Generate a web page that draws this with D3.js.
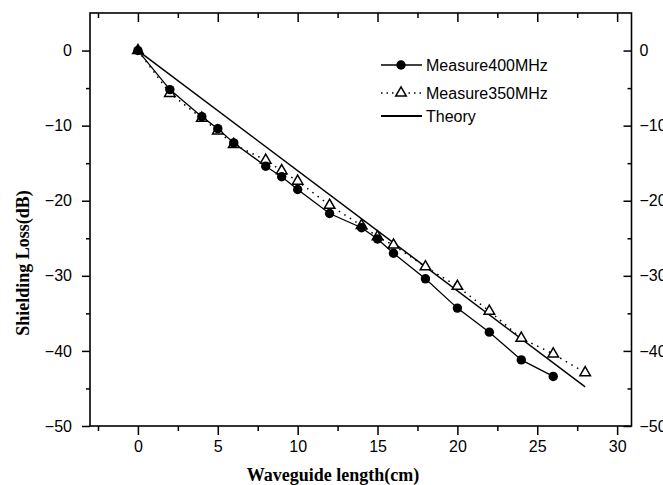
<!DOCTYPE html>
<html lang="en">
<head>
    <meta charset="UTF-8">
    <script src="https://d3js.org/d3.v7.min.js"></script>
    <style>
        body {margin: 0; background-color: #ffffff}
        svg {display: block}
        .tick text {font-family: "Liberation Sans", Arial, sans-serif; font-size: 16px; fill: #000}
        .tick line {stroke: #000; stroke-width: 1.5}
        .title {font-family: "Liberation Serif", "Times New Roman", serif; font-weight: bold; font-size: 18px}
        .legend text {font-family: "Liberation Sans", Arial, sans-serif; font-size: 16px}
    </style>
</head>
<body>
<svg class="chart" width="663" height="485"></svg>
<script type="text/javascript">
    // waveguide length (cm)
    let len400 = [0, 2, 4, 5, 6, 8, 9, 10, 12, 14, 15, 16, 18, 20, 22, 24, 26];
    let loss400 = [0, -5.2, -8.8, -10.4, -12.3, -15.4, -16.8, -18.5, -21.7, -23.6, -25.1, -27.0, -30.4, -34.3, -37.5, -41.2, -43.4];

    let len350 = [0, 2, 4, 5, 6, 8, 9, 10, 12, 14, 15, 16, 18, 20, 22, 24, 26, 28];
    let loss350 = [0, -5.7, -9.0, -10.7, -12.5, -14.6, -16.0, -17.4, -20.6, -23.3, -24.8, -25.9, -28.8, -31.4, -34.7, -38.3, -40.4, -42.9];

    let lenTheory = [0, 28];
    let lossTheory = [0, -44.8];

    let xTicks = [0, 5, 10, 15, 20, 25, 30];
    let xMinor = [-2.5, 2.5, 7.5, 12.5, 17.5, 22.5, 27.5];
    let yTicks = [0, -10, -20, -30, -40, -50];
    let yMinor = [-5, -15, -25, -35, -45];

    let legendNames = ['Measure400MHz', 'Measure350MHz', 'Theory'];

    let pLeft = 90, pRight = 631.5, pTop = 13, pBottom = 426;

    var x = d3.scaleLinear().domain([-3, 30.9]).range([pLeft, pRight]);
    var y = d3.scaleLinear().domain([-50, 5]).range([pBottom, pTop]);

    var svg = d3.select('.chart');

    // axes
    function clean(g) { g.select('.domain').remove(); }

    svg.append('g').attr('transform', 'translate(0,' + pBottom + ')')
        .call(d3.axisBottom(x).tickValues(xTicks).tickSize(9).tickPadding(6)).call(clean);
    svg.append('g').attr('transform', 'translate(0,' + pBottom + ')')
        .call(d3.axisBottom(x).tickValues(xMinor).tickSize(5).tickFormat('')).call(clean);

    svg.append('g').attr('transform', 'translate(0,' + pTop + ')')
        .call(d3.axisBottom(x).tickValues(xTicks).tickSize(9).tickFormat('')).call(clean);
    svg.append('g').attr('transform', 'translate(0,' + pTop + ')')
        .call(d3.axisBottom(x).tickValues(xMinor).tickSize(5).tickFormat('')).call(clean);

    svg.append('g').attr('transform', 'translate(' + pLeft + ',0)')
        .call(d3.axisLeft(y).tickValues(yTicks).tickSize(8).tickPadding(10)).call(clean);
    svg.append('g').attr('transform', 'translate(' + pLeft + ',0)')
        .call(d3.axisLeft(y).tickValues(yMinor).tickSize(4).tickFormat('')).call(clean);

    svg.append('g').attr('transform', 'translate(' + pRight + ',0)')
        .call(d3.axisLeft(y).tickValues(yTicks).tickSize(8).tickFormat('')).call(clean);
    svg.append('g').attr('transform', 'translate(' + pRight + ',0)')
        .call(d3.axisLeft(y).tickValues(yMinor).tickSize(4).tickFormat('')).call(clean);
    svg.append('g').attr('transform', 'translate(' + pRight + ',0)')
        .call(d3.axisRight(y).tickValues(yTicks).tickSize(0).tickPadding(8)).call(clean);

    svg.append('rect')
        .attr('x', pLeft).attr('y', pTop)
        .attr('width', pRight - pLeft).attr('height', pBottom - pTop)
        .attr('fill', 'none').attr('stroke', '#000').attr('stroke-width', 1.6);

    // lines
    var line = d3.line().x(function (d) { return x(d[0]); }).y(function (d) { return y(d[1]); });
    var d400 = d3.zip(len400, loss400);
    var d350 = d3.zip(len350, loss350);
    var dTheory = d3.zip(lenTheory, lossTheory);

    svg.append('path').datum(dTheory).attr('d', line)
        .attr('fill', 'none').attr('stroke', '#000').attr('stroke-width', 1.5);
    svg.append('path').datum(d350).attr('d', line)
        .attr('fill', 'none').attr('stroke', '#000').attr('stroke-width', 1.5)
        .attr('stroke-dasharray', '1.5,5');
    svg.append('path').datum(d400).attr('d', line)
        .attr('fill', 'none').attr('stroke', '#000').attr('stroke-width', 1.3);

    var tri = d3.symbol().type(d3.symbolTriangle).size(48);

    svg.append('g').selectAll('path')
        .data(d350).enter().append('path')
        .attr('d', tri)
        .attr('transform', function (d) { return 'translate(' + x(d[0]) + ',' + y(d[1]) + ')'; })
        .attr('fill', '#fff').attr('stroke', '#000').attr('stroke-width', 1.5);

    svg.append('g').selectAll('circle')
        .data(d400).enter().append('circle')
        .attr('cx', function (d) { return x(d[0]); })
        .attr('cy', function (d) { return y(d[1]); })
        .attr('r', 4.7).attr('fill', '#000');

    // legend
    var legend = svg.append('g').attr('class', 'legend');
    var ly = [65, 93, 116];
    legend.append('line').attr('x1', 381).attr('x2', 422).attr('y1', ly[0]).attr('y2', ly[0])
        .attr('stroke', '#000').attr('stroke-width', 1.3);
    legend.append('circle').attr('cx', 401).attr('cy', ly[0]).attr('r', 4.7).attr('fill', '#000');
    legend.append('line').attr('x1', 381).attr('x2', 422).attr('y1', ly[1]).attr('y2', ly[1])
        .attr('stroke', '#000').attr('stroke-width', 1.5).attr('stroke-dasharray', '1.5,4');
    legend.append('path').attr('d', tri).attr('transform', 'translate(401,' + ly[1] + ')')
        .attr('fill', '#fff').attr('stroke', '#000').attr('stroke-width', 1.5);
    legend.append('line').attr('x1', 381).attr('x2', 422).attr('y1', ly[2]).attr('y2', ly[2])
        .attr('stroke', '#000').attr('stroke-width', 1.8);
    legendNames.forEach(function (name, i) {
        legend.append('text').attr('x', 426).attr('y', ly[i]).attr('dy', '0.35em').text(name);
    });

    // titles
    svg.append('text').attr('class', 'title').attr('x', 333).attr('y', 481)
        .attr('text-anchor', 'middle').text('Waveguide length(cm)');
    svg.append('text').attr('class', 'title')
        .attr('transform', 'translate(29,263) rotate(-90)')
        .attr('text-anchor', 'middle').text('Shielding Loss(dB)');
</script>
</body>
</html>
